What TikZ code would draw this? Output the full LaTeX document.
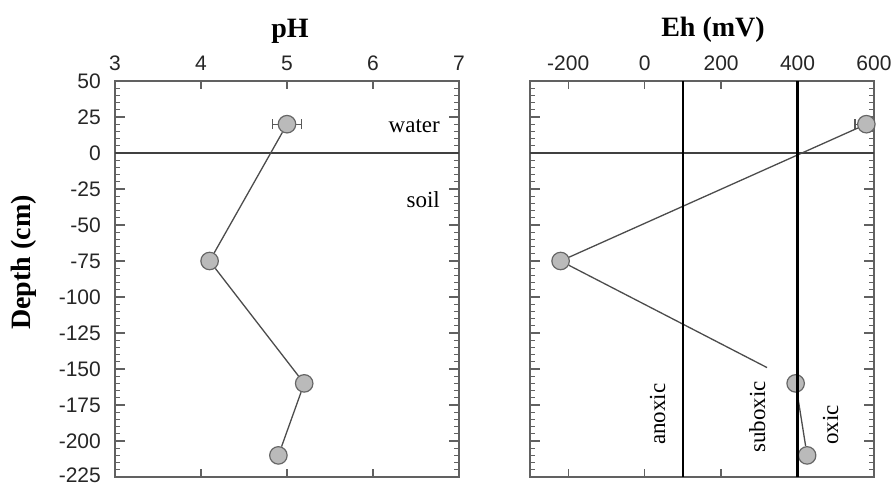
\documentclass[tikz,border=0pt]{standalone}
\usepackage{fontspec}
\setmainfont{Liberation Serif}
\setsansfont{Liberation Sans}
\begin{document}
\begin{tikzpicture}[x=1pt,y=1pt,
  frame/.style={draw=black!62, line width=1.5pt},
  tickmaj/.style={draw=black!62, line width=1.3pt},
  tickmin/.style={draw=black!62, line width=1.1pt},
  ticklab/.style={font=\sffamily\fontsize{21}{21}\selectfont, text=black!85, inner sep=0pt},
  marker/.style={circle, minimum size=17.5pt, inner sep=0pt, fill=black!27, draw=black!60, line width=1.2pt},
  dataline/.style={draw=black!70, line width=1.3pt},
  errbar/.style={draw=black!65, line width=1.2pt},
  zeroline/.style={draw=black!75, line width=2pt},
  zoneline/.style={draw=black, line width=2.6pt},
  lbl/.style={font=\fontsize{23}{23}\selectfont, inner sep=0pt},
  ttl/.style={font=\bfseries\fontsize{28}{28}\selectfont, inner sep=0pt}]
\useasboundingbox[fill=white] (0,0) rectangle (893,486);

% ---------------- left panel (pH) ----------------
\begin{scope}[x=86pt, y=1.44pt, shift={(-143pt,333pt)}]
  \foreach \d in {-225,-220,...,50}
    \draw[tickmin] (3,\d) -- ++(5pt,0) (7,\d) -- ++(-5pt,0);
  \foreach \d in {-225,-200,...,50}
    \draw[tickmaj] (3,\d) -- ++(10pt,0) (7,\d) -- ++(-10pt,0);
  \foreach \p in {4,5,6}
    \draw[tickmaj] (\p,50) -- ++(0,-8pt) (\p,-225) -- ++(0,8pt);
  \draw[frame] (3,-225) rectangle (7,50);
  \draw[zeroline] (3,0) -- (7,0);
  \foreach \p [count=\i] in {3,...,7}
    \node[ticklab, anchor=base, yshift=10.5pt] (phl\i) at (\p,50) {\p};
  \foreach \d [count=\i] in {50,25,...,-200}
    \node[ticklab, anchor=east, xshift=-14pt] (dl\i) at (3,\d) {\d};
  \node[ticklab, anchor=east, xshift=-14pt, yshift=2pt] (dl12) at (3,-225) {-225};
  % error bar
  \coordinate (e1l) at (4.83,20);
  \coordinate (e1r) at (5.17,20);
  \draw[errbar] (e1l) -- (e1r);
  \draw[errbar] (e1l) ++(0,-5pt) -- ++(0,10pt);
  \draw[errbar] (e1r) ++(0,-5pt) -- ++(0,10pt);
  % data
  \node[marker] (p1) at (5,20) {};
  \node[marker] (p2) at (4.1,-75) {};
  \node[marker] (p3) at (5.2,-160) {};
  \node[marker] (p4) at (4.9,-210) {};
  \draw[dataline] (p1) -- (p2);
  \draw[dataline] (p2) -- (p3);
  \draw[dataline] (p3) -- (p4);
\end{scope}

% ---------------- right panel (Eh) ----------------
\begin{scope}[x=0.38222pt, y=1.44pt, shift={(644.67pt,333pt)}]
  \foreach \d in {-225,-220,...,50}
    \draw[tickmin] (-300,\d) -- ++(5pt,0) (600,\d) -- ++(-5pt,0);
  \foreach \d in {-225,-200,...,50}
    \draw[tickmaj] (-300,\d) -- ++(10pt,0) (600,\d) -- ++(-10pt,0);
  \foreach \e in {-200,0,200,400}
    \draw[tickmaj] (\e,50) -- ++(0,-8pt) (\e,-225) -- ++(0,8pt);
  \draw[frame] (-300,-225) rectangle (600,50);
  \draw[zeroline] (-300,0) -- (600,0);
  \foreach \e [count=\i] in {-200,0,200,400,600}
    \node[ticklab, anchor=base, yshift=10.5pt] (ehl\i) at (\e,50) {\e};
  % error bar
  \coordinate (e2l) at (550,20);
  \coordinate (e2r) at (580,20);
  \draw[errbar] (e2l) -- (e2r);
  \draw[errbar] (e2l) ++(0,-5pt) -- ++(0,10pt);
  % data
  \node[marker] (r1) at (580,20) {};
  \node[marker] (r2) at (-220,-75) {};
  \node[marker] (r3) at (395,-160) {};
  \node[marker] (r4) at (425,-210) {};
  \coordinate (rend) at (320,-149);
  \draw[dataline] (r1) -- (r2);
  \draw[dataline] (r2) -- (rend);
  \draw[dataline] (r3) -- (r4);
  % zone boundaries
  \draw[zoneline] (100,-225) -- (100,50);
  \draw[zoneline] (400,-225) -- (400,50);
\end{scope}

% ---------------- texts ----------------
\node[ttl, anchor=base] (tph) at (290,448) {pH};
\node[ttl, anchor=base] (teh) at (713,449) {Eh (mV)};
\node[ttl, anchor=base west, rotate=90] (tdepth) at (31,156) {Depth (cm)};
\node[lbl, anchor=base east] (twater) at (440,353) {water};
\node[lbl, anchor=base east] (tsoil) at (440,278) {soil};
\node[lbl, anchor=base west, rotate=90] (tanox) at (665,41) {anoxic};
\node[lbl, anchor=base west, rotate=90] (tsubox) at (765,33) {suboxic};
\node[lbl, anchor=base west, rotate=90] (toxic) at (838,41) {oxic};
\end{tikzpicture}
\end{document}
